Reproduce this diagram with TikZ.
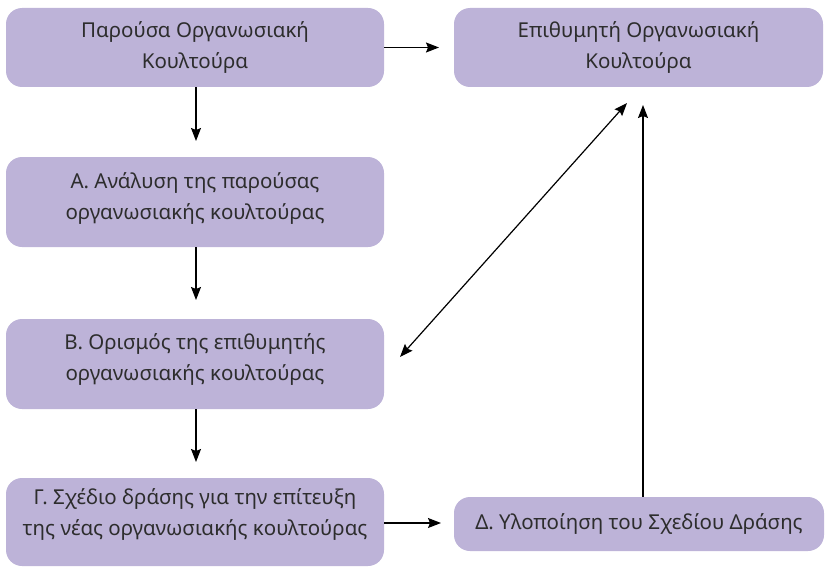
\documentclass[tikz,border=0pt]{standalone}
\usepackage{fontspec}
\setmainfont{Noto Sans}
\usetikzlibrary{arrows.meta}
\definecolor{boxfill}{RGB}{189,179,216}
\definecolor{boxtext}{RGB}{45,45,45}
\tikzset{
  stage/.style={fill=boxfill, draw=none, rounded corners=16pt, align=center,
    text=boxtext, font=\fontsize{20.5}{31}\selectfont, inner sep=0pt},
  caption/.style={align=center, text=boxtext, font=\fontsize{20.5}{31}\selectfont, inner sep=0pt},
  flow/.style={line width=1.2pt, -{Stealth[length=13pt,width=10pt,inset=2pt]}},
  twoway/.style={line width=1.2pt, {Stealth[length=13pt,width=10pt,inset=2pt]}-{Stealth[length=13pt,width=10pt,inset=2pt]}}
}
\begin{document}
\begin{tikzpicture}[x=1pt,y=-1pt]
  \useasboundingbox (0,0) rectangle (826,567);

  % stages of the culture change process
  \node[stage, minimum width=378pt, minimum height=79pt] (current) at (195,47.5)
    {Παρούσα Οργανωσιακή\\Κουλτούρα};
  \node[stage, minimum width=369pt, minimum height=79pt] (target) at (638.5,47.5)
    {Επιθυμητή Οργανωσιακή\\Κουλτούρα};
  % the taller boxes carry their text a little above centre
  \node[stage, minimum width=378pt, minimum height=90pt] (analysis) at (195,202) {};
  \node[caption] (analysistext) at (195,198.5)
    {Α. Ανάλυση της παρούσας\\οργανωσιακής κουλτούρας};
  \node[stage, minimum width=378pt, minimum height=90pt] (define) at (195,364) {};
  \node[caption] (definetext) at (195,360)
    {Β. Ορισμός της επιθυμητής\\οργανωσιακής κουλτούρας};
  \node[stage, minimum width=378pt, minimum height=88pt] (plan) at (195,522) {};
  \node[caption] (plantext) at (195,514.5)
    {Γ. Σχέδιο δράσης για την επίτευξη\\της νέας οργανωσιακής κουλτούρας};
  \node[stage, minimum width=370pt, minimum height=54pt] (implement) at (639,524)
    {Δ. Υλοποίηση του Σχεδίου Δράσης};

  % free arrow ends in the gaps between stages
  \coordinate (c1) at (196,141);
  \coordinate (c2) at (196,300);
  \coordinate (c3) at (196,462);
  \coordinate (c4) at (439,47.5);
  \coordinate (c5) at (441,523);
  \coordinate (c6) at (643,105);
  \coordinate (d1) at (400,357);
  \coordinate (d2) at (627,103);

  % connectors
  \draw[flow] (current.south -| c1) -- (c1);
  \draw[flow] (analysis.south -| c2) -- (c2);
  \draw[flow] (define.south -| c3) -- (c3);
  \draw[flow] (current.east) -- (c4);
  \draw[flow] (plan.east |- c5) -- (c5);
  \draw[flow] (implement.north -| c6) -- (c6);
  \draw[twoway] (d1) -- (d2);
\end{tikzpicture}
\end{document}
